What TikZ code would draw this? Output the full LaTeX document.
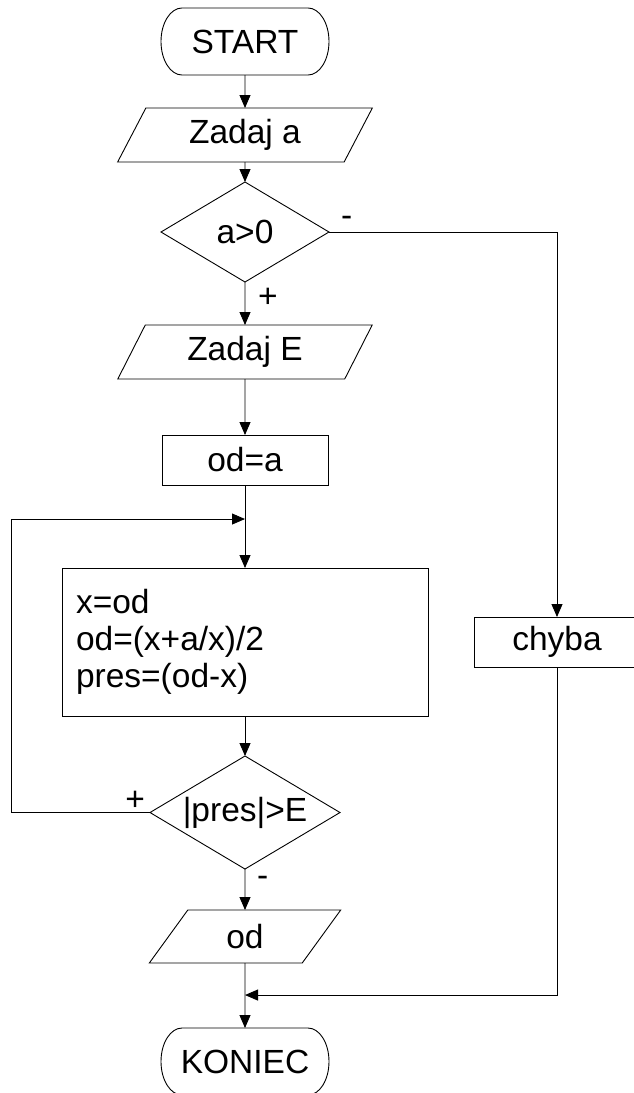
\documentclass[tikz,border=0pt]{standalone}
\usepackage{fontspec}
\setmainfont{Liberation Sans}
\usepackage{tikz}
\usetikzlibrary{shapes.geometric, shapes.misc, arrows.meta, positioning, calc}

\newcommand{\termline}[1]{%
    \draw[line width=0.9pt] ([xshift=21pt]#1.north west) -- ([xshift=-21pt]#1.north east)
        arc[start angle=90, end angle=-90, x radius=21pt, y radius=33.5pt]
        -- ([xshift=21pt]#1.south west)
        arc[start angle=270, end angle=90, x radius=21pt, y radius=33.5pt] -- cycle;}

\begin{document}
\begin{tikzpicture}[
    x=1pt, y=-1pt,
    font=\fontsize{33.5}{37}\selectfont,
    every node/.style={outer sep=0pt},
    term/.style={rectangle, minimum width=168pt, minimum height=67pt, inner sep=0pt},
    io/.style={draw, line width=0.9pt, trapezium, trapezium left angle=63, trapezium right angle=117, trapezium stretches=true, minimum width=255pt, minimum height=54pt, inner sep=0pt},
    cond/.style={draw, line width=0.9pt, diamond, aspect=1.7, minimum width=168pt, minimum height=100pt, inner sep=0pt},
    box/.style={draw, line width=0.9pt, rectangle, minimum width=166pt, minimum height=50pt, inner sep=0pt},
    lbl/.style={inner sep=0pt},
    arrow/.style={-{Triangle[length=13pt, width=11pt]}, line width=0.9pt}
]
    \useasboundingbox (0,0) rectangle (634,1093);

    \node[term] (start) at (245,41.5) {START};
    \node[io, below=33pt of start] (zadA) {Zadaj a};
    \node[cond, below=20pt of zadA] (cond1) {a>0};
    \node[io, below=43pt of cond1] (zadE) {Zadaj E};
    \node[box, below=56pt of zadE] (oda) {od=a};
    \node[box, below=83pt of oda, minimum width=366pt, minimum height=148pt, text width=338pt, inner xsep=14pt, align=left] (proc) {x=od\\od=(x+a/x)/2\\pres=(od-x)};
    \node[cond, below=40pt of proc, minimum width=190pt, minimum height=113pt] (cond2) {|pres|>E};
    \node[io, below=41pt of cond2, minimum width=192pt, minimum height=53pt] (out) {od};
    \node[term, below=65pt of out] (koniec) {KONIEC};
    \node[box] (chyba) at ([xshift=312pt]proc.center) {chyba};
    \termline{start}
    \termline{koniec}

    \node[lbl, anchor=base west] (minus1) at ([shift={(12,-6)}]cond1.east) {-};
    \node[lbl, anchor=base west] (plus1) at ([shift={(13,25)}]cond1.south) {+};
    \node[lbl, anchor=base east] (plus2) at ([shift={(-5,-2)}]cond2.west) {+};
    \node[lbl, anchor=base west] (minus2) at ([shift={(12,17)}]cond2.south) {-};

    \coordinate[below=34pt of oda.south] (loopin);
    \coordinate (loopleft) at ([xshift=-139pt]cond2.west);
    \coordinate[below=32pt of out.south] (join);

    \draw[arrow] (start) -- (zadA);
    \draw[arrow] (zadA) -- (cond1);
    \draw[arrow] (cond1) -- (zadE);
    \draw[arrow] (zadE) -- (oda);
    \draw[arrow] (oda) -- (proc);
    \draw[arrow] (proc) -- (cond2);
    \draw[arrow] (cond2) -- (out);
    \draw[arrow] (out) -- (koniec);
    \draw[arrow] (cond2.west) -- (loopleft) |- (loopin);
    \draw[arrow] (cond1.east) -| (chyba.north);
    \draw[arrow] (chyba.south) |- (join);
\end{tikzpicture}
\end{document}
